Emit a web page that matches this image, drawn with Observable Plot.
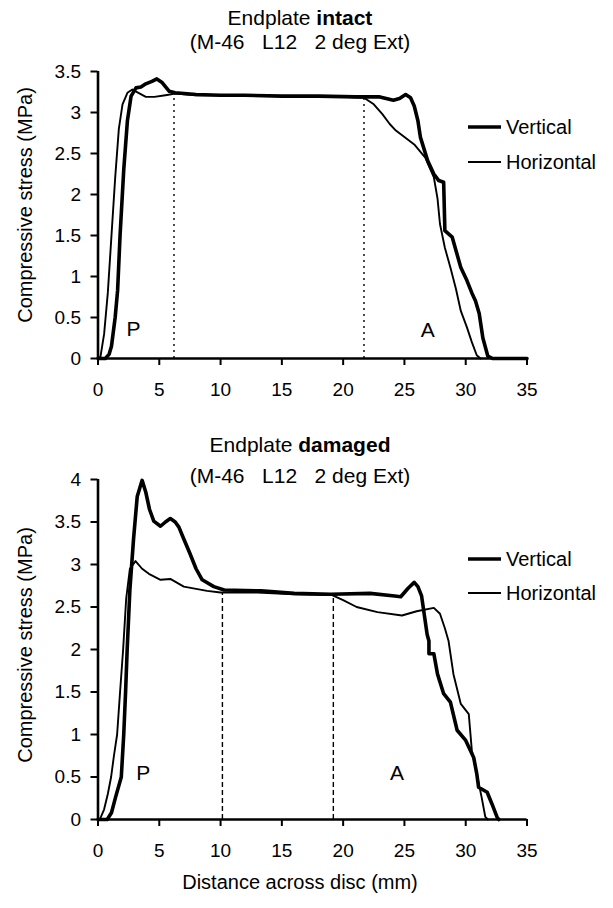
<!DOCTYPE html>
<html>
<head>
<meta charset="utf-8">
<script src="https://cdn.jsdelivr.net/npm/d3@7"></script>
<script src="https://cdn.jsdelivr.net/npm/@observablehq/plot@0.6"></script>
<style>
  html, body { margin: 0; padding: 0; background: white; }
  body { font-family: "Liberation Sans", Arial, Helvetica, sans-serif; color: black; }
  #root { position: relative; width: 613px; height: 908px; overflow: hidden; }
  .abs { position: absolute; z-index: 2; white-space: pre; line-height: 1; }
  .title { left: 0; width: 600px; text-align: center; font-size: 21px; }
  .ylab { font-size: 20px; transform-origin: center center; }
  .leg { display: flex; align-items: center; font-size: 20px; }
  .leg svg { display: block; margin-right: 5px; }
  .chart { position: absolute; left: 0; z-index: 1; }
</style>
</head>
<body>
<div id="root"></div>
<script>
// ---------------- data ----------------
const xTicks = [0, 5, 10, 15, 20, 25, 30, 35];
const topYTicks = [0, 0.5, 1, 1.5, 2, 2.5, 3, 3.5];
const bottomYTicks = [0, 0.5, 1, 1.5, 2, 2.5, 3, 3.5, 4];
const seriesNames = ["Vertical", "Horizontal"];

// Endplate intact — [distance mm, stress MPa]
const intactVertical = [
  [0,0],[0.6,0],[0.9,0.05],[1.1,0.15],[1.4,0.5],[1.6,0.83],[1.8,1.5],[2.1,2.3],[2.4,2.9],[2.7,3.2],
  [3.1,3.3],[3.5,3.31],[3.9,3.35],[4.4,3.38],[4.8,3.41],[5.2,3.37],[5.8,3.26],[6.3,3.24],[8,3.22],
  [10,3.21],[12,3.21],[15,3.2],[18,3.2],[21,3.19],[23,3.19],[24.1,3.15],[24.6,3.17],[25.1,3.22],
  [25.5,3.18],[25.8,3.08],[26.1,2.9],[26.3,2.7],[26.9,2.41],[27.4,2.25],[27.8,2.17],[28.2,2.15],
  [28.3,1.56],[28.9,1.48],[29.2,1.32],[29.6,1.11],[30.1,0.95],[30.5,0.8],[30.8,0.7],[31.1,0.55],
  [31.4,0.25],[31.8,0.03],[32.2,0],[35,0]
];
const intactHorizontal = [
  [0,0],[0.2,0.02],[0.5,0.3],[0.8,0.8],[1.1,1.5],[1.4,2.2],[1.7,2.8],[2.0,3.1],[2.4,3.24],[2.8,3.28],
  [3.3,3.24],[3.9,3.19],[4.6,3.19],[5.5,3.21],[6.3,3.23],[8,3.21],[10,3.21],[12,3.2],[15,3.2],
  [18,3.19],[20,3.19],[21.7,3.18],[22.5,3.1],[23.2,2.98],[23.8,2.86],[24.3,2.78],[25,2.7],[25.8,2.61],
  [26.7,2.45],[27.4,2.21],[27.7,1.95],[27.9,1.64],[28.3,1.35],[28.75,1.11],[29.2,0.85],[29.6,0.58],
  [30.1,0.38],[30.5,0.2],[30.9,0.04],[31.2,0]
];
const intactDividers = [6.2, 21.7];
const intactDividerTop = 3.2;
const intactRegions = [{t: "P", x: 2.9, y: 0.36}, {t: "A", x: 26.9, y: 0.34}];

// Endplate damaged — [distance mm, stress MPa]
const damagedVertical = [
  [0,0],[0.75,0],[1.1,0.08],[1.43,0.26],[1.9,0.5],[2.1,1],[2.25,1.5],[2.38,2],[2.6,2.7],[2.9,3.3],
  [3.2,3.8],[3.6,3.99],[3.9,3.85],[4.2,3.65],[4.55,3.51],[5.1,3.45],[5.5,3.5],[5.9,3.54],[6.3,3.5],
  [6.6,3.44],[7.0,3.3],[7.5,3.13],[8.0,2.95],[8.5,2.82],[9.45,2.74],[10.3,2.7],[13.3,2.69],[16,2.66],
  [19,2.65],[22.2,2.66],[24.2,2.63],[24.7,2.62],[25.3,2.72],[25.8,2.79],[26.1,2.74],[26.4,2.63],
  [26.85,2.18],[27.0,2.1],[27.0,1.95],[27.4,1.95],[27.7,1.71],[28.2,1.48],[28.75,1.38],[29.3,1.05],
  [30.0,0.93],[30.65,0.73],[30.9,0.54],[31.05,0.38],[31.75,0.32],[32.15,0.18],[32.55,0.03],[32.7,0]
];
const damagedHorizontal = [
  [0,0],[0.15,0],[0.5,0.12],[0.8,0.3],[1.07,0.5],[1.3,0.75],[1.56,1],[1.8,1.5],[2.05,2.0],[2.3,2.6],
  [2.6,2.95],[3.06,3.04],[3.6,2.95],[4.15,2.89],[5.1,2.82],[5.9,2.83],[7.0,2.74],[8.9,2.69],[10,2.67],
  [13,2.67],[16,2.65],[19.1,2.64],[20,2.58],[21.1,2.5],[22.8,2.44],[24.8,2.4],[26.0,2.45],[27.4,2.49],
  [27.9,2.42],[28.3,2.25],[28.6,2.1],[29.0,1.71],[29.6,1.36],[30.25,1.24],[30.5,0.81],[30.9,0.54],
  [31.3,0.26],[31.6,0.03],[31.8,0]
];
const damagedDividers = [10.15, 19.2];
const damagedDividerTop = 2.66;
const damagedRegions = [{t: "P", x: 3.7, y: 0.54}, {t: "A", x: 24.4, y: 0.54}];

// ---------------- drawing ----------------
const root = document.getElementById("root");
const FONT = "'Liberation Sans', Arial, Helvetica, sans-serif";

function chart(o) {
  const svg = Plot.plot({
    width: 613,
    height: o.height,
    marginLeft: 97.5,
    marginRight: 86.5,
    marginTop: o.marginTop,
    marginBottom: o.marginBottom,
    style: {fontFamily: FONT, fontSize: "19px", background: "transparent", color: "black", overflow: "visible"},
    x: {domain: [0, 35]},
    y: {domain: o.yDomain},
    marks: [
      Plot.ruleX(o.dividers, {x: d => d, y1: 0, y2: o.dividerTop, stroke: "black", strokeWidth: 1.4, strokeDasharray: o.dash}),
      Plot.line(o.horizontal, {x: d => d[0], y: d => d[1], stroke: "black", strokeWidth: 1.9, strokeLinejoin: "round"}),
      Plot.line(o.vertical, {x: d => d[0], y: d => d[1], stroke: "black", strokeWidth: 3.6, strokeLinejoin: "round"}),
      Plot.text(o.regions, {x: "x", y: "y", text: "t", fontSize: 21, fill: "black"}),
      Plot.axisX({ticks: xTicks, tickSize: 7, tickPadding: 17, strokeWidth: 2, label: null, fontSize: 19, tickFormat: d => String(d)}),
      Plot.axisY({ticks: o.yTicks, tickSize: 7, tickPadding: 10, strokeWidth: 2, label: null, fontSize: 19, tickFormat: d => String(d)}),
      Plot.ruleY([0], {stroke: "black", strokeWidth: 2.6}),
      Plot.ruleX([0], {stroke: "black", strokeWidth: 2.6})
    ]
  });
  svg.classList.add("chart");
  svg.style.top = o.top + "px";
  root.appendChild(svg);
}

chart({top: 0, height: 420, marginTop: 71, marginBottom: 62, yDomain: [0, 3.5], yTicks: topYTicks,
  vertical: intactVertical, horizontal: intactHorizontal, dividers: intactDividers,
  dividerTop: intactDividerTop, dash: "2,4", regions: intactRegions});
chart({top: 420, height: 439, marginTop: 59, marginBottom: 40, yDomain: [0, 4], yTicks: bottomYTicks,
  vertical: damagedVertical, horizontal: damagedHorizontal, dividers: damagedDividers,
  dividerTop: damagedDividerTop, dash: "5,3", regions: damagedRegions});

function addText(html, cls, style) {
  const d = document.createElement("div");
  d.className = "abs " + cls;
  d.innerHTML = html;
  Object.assign(d.style, style);
  root.appendChild(d);
  return d;
}

// titles
addText("Endplate <b>intact</b>", "title", {top: "7px"});
addText("(M-46   L12   2 deg Ext)", "title", {top: "31px"});
addText("Endplate <b>damaged</b>", "title", {top: "434px"});
addText("(M-46   L12   2 deg Ext)", "title", {top: "465px"});

// y axis labels (rotated)
function yLabel(cy) {
  const d = addText("Compressive stress (MPa)", "ylab", {});
  const w = d.offsetWidth, h = d.offsetHeight;
  d.style.left = (25 - w / 2) + "px";
  d.style.top = (cy - h / 2) + "px";
  d.style.transform = "rotate(-90deg)";
}
yLabel(205);
yLabel(645);

// x axis label
addText("Distance across disc (mm)", "title", {top: "872px", fontSize: "20px"});

// legends
function legend(name, lw, cy) {
  const d = addText("", "leg", {left: "468px"});
  d.innerHTML = `<svg width="33" height="8"><line x1="0" x2="33" y1="4" y2="4" stroke="black" stroke-width="${lw}"/></svg><span>${name}</span>`;
  d.style.top = (cy - d.offsetHeight / 2) + "px";
}
legend(seriesNames[0], 3.6, 127);
legend(seriesNames[1], 1.9, 162);
legend(seriesNames[0], 3.6, 559);
legend(seriesNames[1], 1.9, 593);
</script>
</body>
</html>
